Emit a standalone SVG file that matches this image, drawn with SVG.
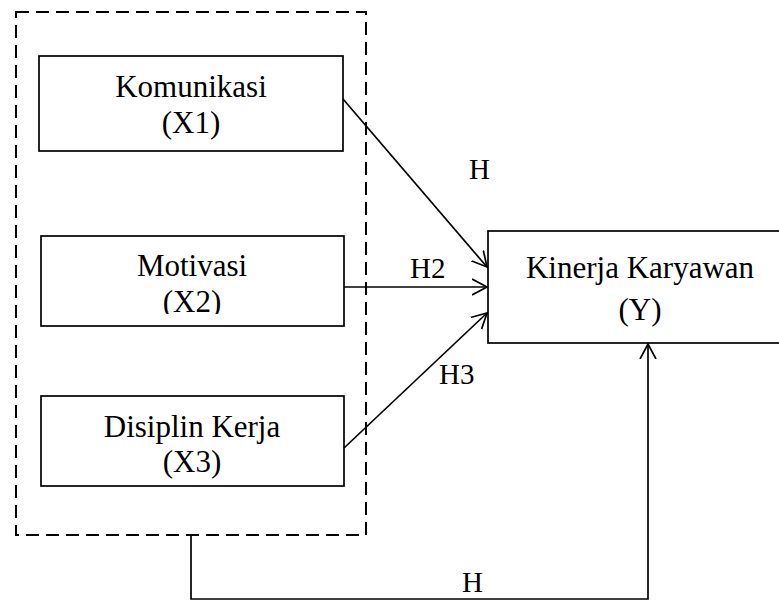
<svg xmlns="http://www.w3.org/2000/svg" width="779" height="601" viewBox="0 0 779 601">
<style>
.box{fill:#fff;stroke:#000;stroke-width:1.7}
.grp{fill:none;stroke:#000;stroke-width:2;stroke-dasharray:13 7}
.t{font-family:"Liberation Serif","Times New Roman",serif;font-size:31px;fill:#000;text-anchor:middle}
.lbl{font-family:"Liberation Serif","Times New Roman",serif;font-size:29px;fill:#000;text-anchor:start}
.edge{fill:none;stroke:#000;stroke-width:1.7}
</style>
<defs>
<marker id="arr" markerUnits="userSpaceOnUse" markerWidth="30" markerHeight="30" viewBox="-15 -15 30 30" refX="0" refY="0" orient="auto">
<path d="M-15,-8 L0,0 L-15,8" fill="none" stroke="#000" stroke-width="1.7"/>
</marker>
<clipPath id="cx2"><rect x="0" y="0" width="779" height="314"/></clipPath>
<clipPath id="ch3"><rect x="0" y="0" width="779" height="385"/></clipPath>
</defs>
<rect x="0" y="0" width="779" height="601" fill="#fff"/>
<g id="group-x">
<rect class="grp" x="16" y="12" width="350" height="523"/>
</g>
<g id="node-x1">
<rect class="box" x="39" y="56" width="304" height="95"/>
<text class="t" x="191" y="97">Komunikasi</text>
<text class="t" x="191" y="133">(X1)</text>
</g>
<g id="node-x2">
<rect class="box" x="41" y="236" width="303" height="90"/>
<text class="t" x="192" y="276">Motivasi</text>
<text class="t" x="192" y="312" clip-path="url(#cx2)">(X2)</text>
</g>
<g id="node-x3">
<rect class="box" x="41" y="396" width="303" height="90"/>
<text class="t" x="192" y="437">Disiplin Kerja</text>
<text class="t" x="192" y="472">(X3)</text>
</g>
<g id="node-y">
<rect class="box" x="488" y="231" width="300" height="112"/>
<text class="t" x="640" y="278">Kinerja Karyawan</text>
<text class="t" x="640" y="320">(Y)</text>
</g>
<g id="connectors">
<line class="edge" x1="343" y1="99" x2="487" y2="267" marker-end="url(#arr)"/>
<line class="edge" x1="344" y1="287" x2="487" y2="287" marker-end="url(#arr)"/>
<line class="edge" x1="344" y1="448" x2="487" y2="313" marker-end="url(#arr)"/>
<polyline class="edge" points="191,535 191,599 648,599 648,344" marker-end="url(#arr)"/>
<text class="lbl" x="469" y="179">H</text>
<text class="lbl" x="410" y="278">H2</text>
<text class="lbl" x="439" y="384" clip-path="url(#ch3)">H3</text>
<text class="lbl" x="462" y="592">H</text>
</g>
</svg>
